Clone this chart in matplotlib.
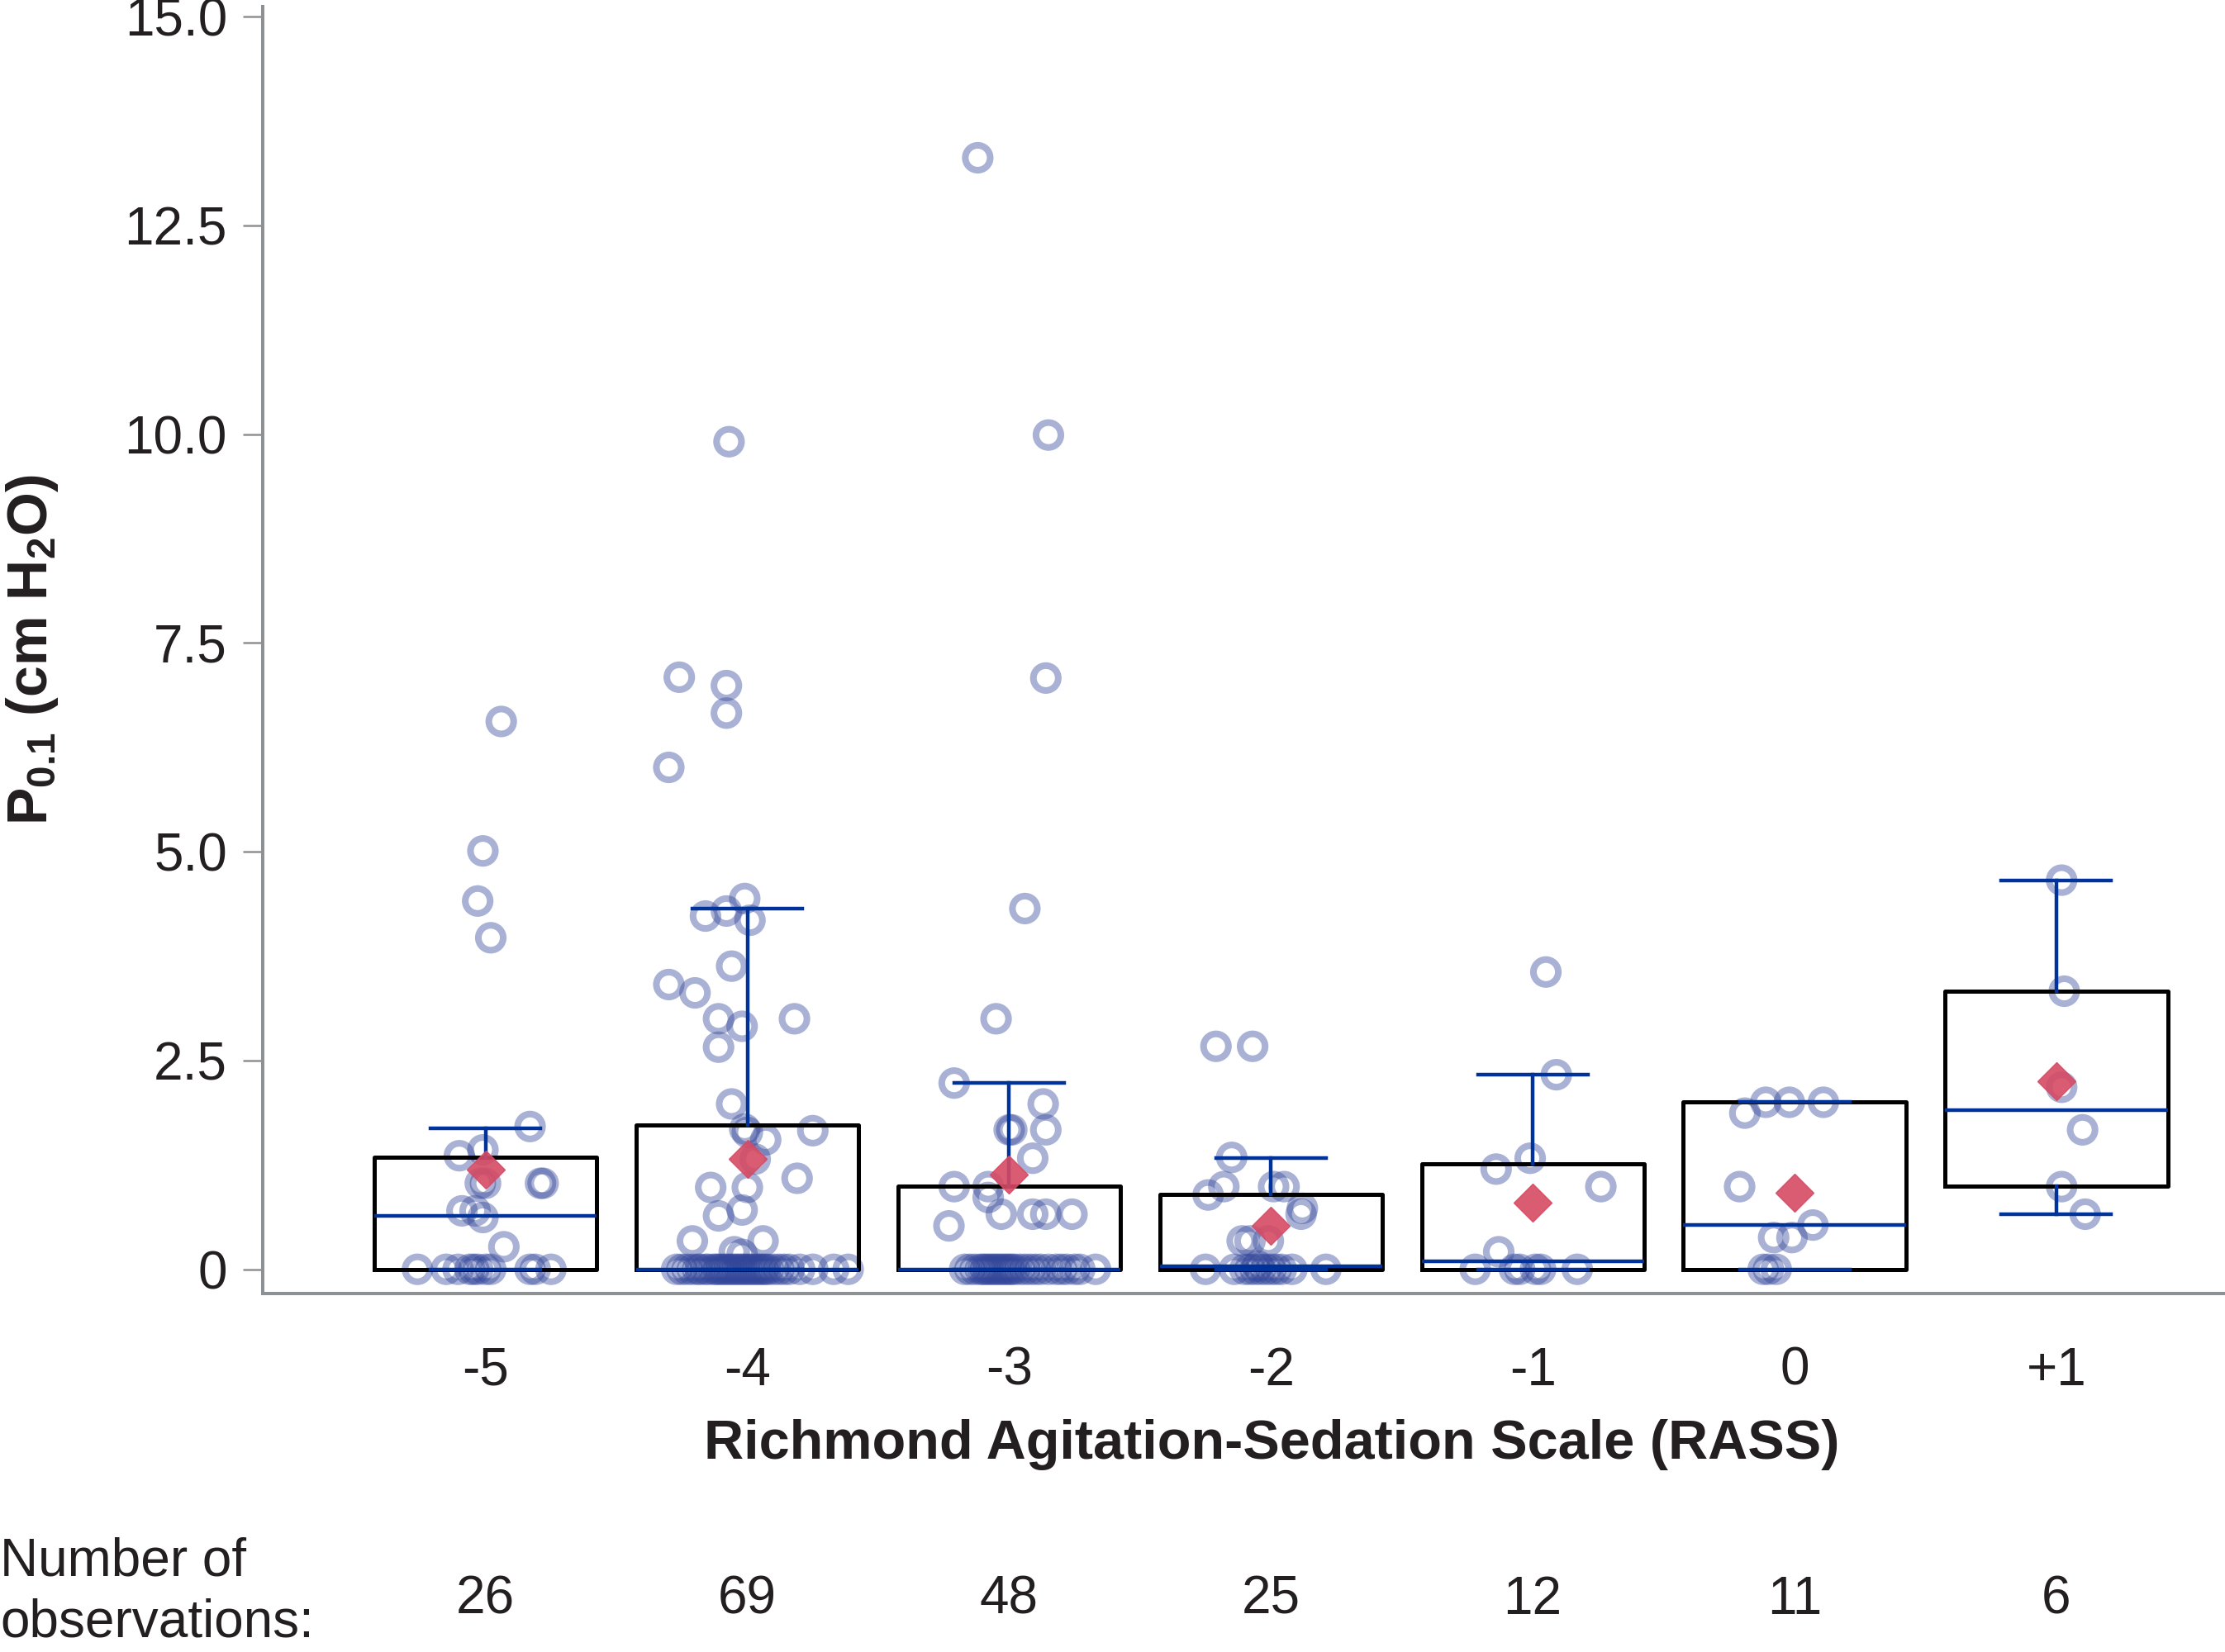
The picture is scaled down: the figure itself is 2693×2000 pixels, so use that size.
import matplotlib
matplotlib.use("Agg")
import matplotlib.pyplot as plt
from matplotlib.transforms import blended_transform_factory

plt.rcParams['font.family'] = ['Liberation Sans', 'DejaVu Sans']
plt.rcParams['mathtext.default'] = 'regular'

# categories and counts
rass_labels = ['-5', '-4', '-3', '-2', '-1', '0', '+1']
n_obs = [26, 69, 48, 25, 12, 11, 6]

# box statistics
q1 = [0, 0, 0, 0, 0, 0, 1.0]
medians = [0.64, 0, 0, 0.04, 0.10, 0.53, 1.91]
q3 = [1.34, 1.73, 1.0, 0.90, 1.26, 2.0, 3.33]
whisk_lo = [0, 0, 0, 0, 0, 0, 0.66]
whisk_hi = [1.69, 4.32, 2.23, 1.33, 2.33, 2.0, 4.66]
means = [1.19, 1.32, 1.13, 0.52, 0.80, 0.92, 2.25]

# individual observations (values) and their horizontal jitter
vals_m5 = [6.56, 5.01, 4.41, 3.97, 1.71, 1.36, 1.43, 1.03, 1.03, 1.03, 1.03,
           0.70, 0.70, 0.62, 0.27] + [0] * 11
jit_m5 = [0.06, -0.01, -0.03, 0.02, 0.17, -0.10, -0.01, -0.02, 0.0, 0.21, 0.22,
          -0.09, -0.04, -0.01, 0.07,
          -0.26, -0.15, -0.105, -0.06, -0.045, -0.03, 0.0, 0.02, 0.17, 0.19, 0.25]

vals_m4 = [9.91, 7.09, 6.99, 6.66, 6.01, 4.44, 4.29, 4.23, 4.18, 3.63, 3.41,
           3.31, 3.0, 3.0, 2.91, 2.66, 1.98, 1.68, 1.64, 1.66, 1.55, 1.32,
           1.09, 0.98, 0.98, 0.71, 0.64, 0.34, 0.34, 0.21, 0.18] + [0] * 38
jit_m4 = [-0.07, -0.26, -0.08, -0.08, -0.30, -0.01, -0.08, -0.16, 0.01, -0.06,
          -0.30, -0.20, -0.11, 0.18, -0.02, -0.11, -0.06, -0.01, 0.0, 0.25,
          0.07, 0.03, 0.19, -0.14, 0.0, -0.02, -0.11, -0.21, 0.06, -0.05, -0.02,
          -0.27, -0.25, -0.23, -0.21, -0.19, -0.18, -0.16, -0.15, -0.13, -0.12,
          -0.11, -0.10, -0.09, -0.08, -0.07, -0.06, -0.05, -0.04, -0.03, -0.02,
          -0.01, 0.0, 0.01, 0.02, 0.03, 0.04, 0.05, 0.06, 0.07, 0.08, 0.10,
          0.12, 0.14, 0.16, 0.20, 0.25, 0.33, 0.385]

vals_m3 = [13.31, 9.99, 7.08, 4.32, 3.0, 2.23, 1.98, 1.67, 1.67, 1.67, 1.33,
           0.99, 0.99, 0.86, 0.66, 0.66, 0.66, 0.66, 0.52] + [0] * 29
jit_m3 = [-0.12, 0.15, 0.14, 0.06, -0.05, -0.21, 0.13, 0.0, 0.01, 0.14, 0.09,
          -0.21, -0.08, -0.08, -0.03, 0.09, 0.14, 0.24, -0.23,
          -0.17, -0.15, -0.13, -0.11, -0.10, -0.09, -0.08, -0.07, -0.06, -0.05,
          -0.04, -0.03, -0.02, -0.01, 0.0, 0.01, 0.02, 0.04, 0.06, 0.08, 0.10,
          0.12, 0.15, 0.18, 0.20, 0.22, 0.25, 0.27, 0.33]

vals_m2 = [2.67, 2.67, 1.34, 0.99, 0.89, 0.99, 0.99, 0.73, 0.66, 0.34, 0.34,
           0.34, 0.04] + [0] * 12
jit_m2 = [-0.21, -0.07, -0.15, -0.18, -0.24, 0.01, 0.05, 0.12, 0.115, -0.11,
          -0.08, -0.01, -0.05,
          -0.25, -0.14, -0.10, -0.08, -0.06, -0.04, -0.02, 0.0, 0.02, 0.04,
          0.08, 0.21]

vals_m1 = [3.56, 2.33, 1.33, 1.20, 0.99, 0.21] + [0] * 6
jit_m1 = [0.05, 0.09, -0.01, -0.14, 0.26, -0.13,
          -0.22, -0.07, -0.05, 0.01, 0.03, 0.17]

vals_0 = [2.0, 2.0, 2.0, 1.87, 0.99, 0.53, 0.38, 0.38, 0, 0, 0]
jit_0 = [-0.11, -0.02, 0.11, -0.19, -0.21, 0.07, -0.08, -0.01, -0.12, -0.10, -0.07]

vals_p1 = [4.66, 3.33, 2.18, 1.67, 0.99, 0.66]
jit_p1 = [0.02, 0.03, 0.02, 0.10, 0.02, 0.11]

group_vals = [vals_m5, vals_m4, vals_m3, vals_m2, vals_m1, vals_0, vals_p1]
group_jit = [jit_m5, jit_m4, jit_m3, jit_m2, jit_m1, jit_0, jit_p1]

positions = list(range(len(rass_labels)))
blue = '#003399'
grey = '#8E9194'
txt = '#231F20'

fig = plt.figure(figsize=(26.93, 20), dpi=100)
ax = fig.add_axes([318 / 2693, 1 - 1566 / 2000, 1 - 318 / 2693, (1566 - 8) / 2000])

# jittered points
for pos, vals, jit in zip(positions, group_vals, group_jit):
    ax.scatter([pos + j for j in jit], vals, s=470, facecolors='none',
               edgecolors='#32469A', linewidths=5.8, alpha=0.42, zorder=2)

stats = []
for i in positions:
    stats.append(dict(q1=q1[i], med=medians[i], q3=q3[i], whislo=whisk_lo[i],
                      whishi=whisk_hi[i], mean=means[i], fliers=[]))

ax.bxp(stats, positions=positions, widths=0.85, capwidths=0.42,
       showmeans=True, showfliers=False,
       boxprops=dict(color='black', linewidth=3.6, zorder=3),
       medianprops=dict(color=blue, linewidth=3.2, zorder=3),
       whiskerprops=dict(color=blue, linewidth=3.2, zorder=3),
       capprops=dict(color=blue, linewidth=3.2, zorder=3),
       meanprops=dict(marker='D', markersize=23, markerfacecolor='#D64A64',
                      markeredgecolor='#D64A64', alpha=0.9, zorder=4))

ax.set_xlim(-0.851, 6.644)
ax.set_ylim(-0.29, 15.12)

for side in ['top', 'right']:
    ax.spines[side].set_visible(False)
for side in ['left', 'bottom']:
    ax.spines[side].set_color(grey)
    ax.spines[side].set_linewidth(2.9)

yt = [0, 2.5, 5.0, 7.5, 10.0, 12.5, 15.0]
ax.set_yticks(yt)
ax.set_yticklabels(['0', '2.5', '5.0', '7.5', '10.0', '12.5', '15.0'])
ax.tick_params(axis='y', length=17, width=1.8, color=grey, pad=14,
               labelsize=46, labelcolor=txt)
ax.set_xticks(positions)
ax.set_xticklabels(rass_labels)
ax.tick_params(axis='x', length=0, pad=46, labelsize=46, labelcolor=txt)

ax.set_xlabel('Richmond Agitation-Sedation Scale (RASS)', fontsize=48,
              fontweight='bold', color=txt, labelpad=20, x=0.514)
ax.set_ylabel(r'P$_{0.1}$ (cm H$_2$O)', fontsize=49, fontweight='bold',
              color=txt, labelpad=56)

# number of observations row
row = blended_transform_factory(ax.transData, fig.transFigure)
for pos, n in zip(positions, n_obs):
    ax.text(pos, 1 - 1937 / 2000, str(n), transform=row, fontsize=46,
            color=txt, ha='center', va='center')
fig.text(0.0, 1 - 1890 / 2000, 'Number of', fontsize=46, color=txt,
         ha='left', va='center')
fig.text(0.0, 1 - 1964 / 2000, 'observations:', fontsize=46, color=txt,
         ha='left', va='center')

fig.savefig('out.png', dpi=100)
